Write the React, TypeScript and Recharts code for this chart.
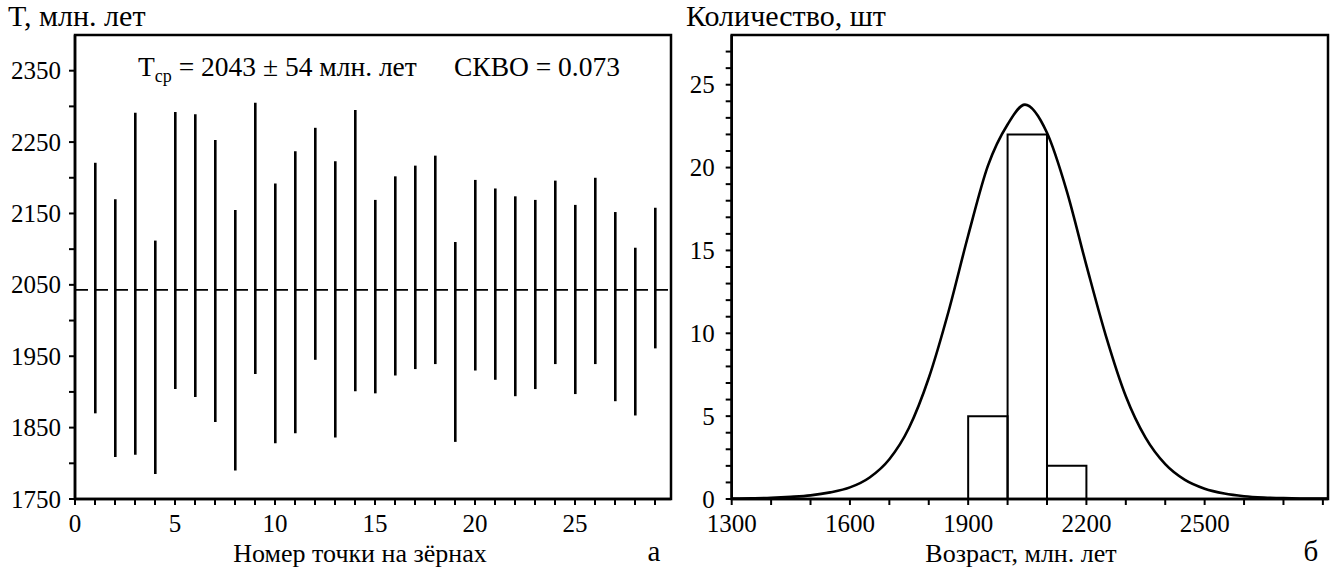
import React from 'react';
import { ComposedChart, Bar, Line, XAxis, YAxis, ReferenceLine, ReferenceArea } from 'recharts';

const FONT = "'Liberation Serif', 'Times New Roman', serif";

// ---------- Left panel (а): age of each analysed point ----------
const pointNumbers = [1, 2, 3, 4, 5, 6, 7, 8, 9, 10, 11, 12, 13, 14, 15, 16, 17, 18, 19, 20, 21, 22, 23, 24, 25, 26, 27, 28, 29];
const ageLow = [1870, 1809, 1812, 1785, 1904, 1893, 1858, 1790, 1925, 1828, 1842, 1945, 1836, 1901, 1898, 1923, 1932, 1939, 1830, 1930, 1917, 1894, 1904, 1939, 1897, 1939, 1887, 1867, 1961];
const ageHigh = [2221, 2170, 2291, 2112, 2292, 2289, 2253, 2155, 2305, 2192, 2237, 2270, 2223, 2295, 2169, 2202, 2217, 2231, 2110, 2197, 2185, 2174, 2169, 2196, 2162, 2200, 2152, 2102, 2158];
const meanAge = 2043;
const leftXDomain = [0, 29.8];
const leftYDomain = [1750, 2400];
const leftXTicks = [0, 1, 2, 3, 4, 5, 6, 7, 8, 9, 10, 11, 12, 13, 14, 15, 16, 17, 18, 19, 20, 21, 22, 23, 24, 25, 26, 27, 28, 29];
const leftXLabels = [0, 5, 10, 15, 20, 25];
const leftYTicks = [1750, 1800, 1850, 1900, 1950, 2000, 2050, 2100, 2150, 2200, 2250, 2300, 2350];
const leftYLabels = [1750, 1850, 1950, 2050, 2150, 2250, 2350];

// ---------- Right panel (б): histogram + density curve ----------
const curveAges = [1300, 1350, 1400, 1450, 1500, 1550, 1600, 1650, 1700, 1750, 1800, 1850, 1900, 1950, 2000, 2044, 2100, 2150, 2200, 2250, 2300, 2350, 2400, 2450, 2500, 2550, 2600, 2650, 2700, 2750, 2813];
const curveCounts = [0.02, 0.04, 0.07, 0.13, 0.22, 0.4, 0.7, 1.3, 2.4, 4.3, 7.3, 11.3, 15.9, 20.1, 22.6, 23.8, 22.1, 18.6, 14.1, 9.8, 6.2, 3.7, 2.1, 1.15, 0.62, 0.33, 0.17, 0.09, 0.05, 0.03, 0.02];
const binStarts = [1900, 2000, 2100];
const binEnds = [2000, 2100, 2200];
const binCounts = [5, 22, 2];
const rightXDomain = [1300, 2813];
const rightYDomain = [0, 28];
const rightXTicks = [1300, 1400, 1500, 1600, 1700, 1800, 1900, 2000, 2100, 2200, 2300, 2400, 2500, 2600, 2700, 2800];
const rightXLabels = [1300, 1600, 1900, 2200, 2500];
const rightYTicks = [0, 1, 2, 3, 4, 5, 6, 7, 8, 9, 10, 11, 12, 13, 14, 15, 16, 17, 18, 19, 20, 21, 22, 23, 24, 25, 26, 27];
const rightYLabels = [0, 5, 10, 15, 20, 25];

const leftData = pointNumbers.map((n, i) => ({ n, range: [ageLow[i], ageHigh[i]] }));
const curveData = curveAges.map((age, i) => ({ age, count: curveCounts[i] }));

const TICK_FS = 25;
const txt = (size: number) => ({ fontFamily: FONT, fontSize: size });

const makeYTick = (labels: number[]) => (props: any) => {
  const { x, y, payload } = props;
  if (!labels.includes(payload.value)) return <g />;
  return (
    <text x={x} y={y} dy="0.34em" textAnchor="end" fill="#000" fontFamily="Liberation Serif" fontSize={TICK_FS} style={txt(TICK_FS)}>
      {payload.value}
    </text>
  );
};

const makeXTick = (labels: number[]) => (props: any) => {
  const { x, y, payload } = props;
  if (!labels.includes(payload.value)) return <g />;
  return (
    <text x={x} y={y} dy="0.68em" textAnchor="middle" fill="#000" fontFamily="Liberation Serif" fontSize={TICK_FS} style={txt(TICK_FS)}>
      {payload.value}
    </text>
  );
};

const axisLine = { stroke: '#000', strokeWidth: 2.5 };
const tickLine = { stroke: '#000', strokeWidth: 2 };

const Label = ({ x, y, size, anchor, children }: any) => (
  <text x={x} y={y} textAnchor={anchor || 'start'} fill="#000" fontFamily="Liberation Serif" fontSize={size} style={txt(size)}>
    {children}
  </text>
);

export default function App() {
  return (
    <div style={{ position: 'absolute', left: 0, top: 0, width: 1336, height: 569, background: '#fff' }}>
      <div style={{ position: 'absolute', left: 0, top: 0 }}>
        <ComposedChart width={680} height={569} data={leftData} margin={{ top: 35, right: 9, bottom: 40, left: 15 }}>
          <XAxis
            dataKey="n"
            type="number"
            domain={leftXDomain}
            ticks={leftXTicks}
            interval={0}
            allowDataOverflow
            height={30}
            tickSize={6}
            tickMargin={10}
            axisLine={axisLine}
            tickLine={tickLine}
            tick={makeXTick(leftXLabels)}
          />
          <YAxis
            type="number"
            domain={leftYDomain}
            ticks={leftYTicks}
            interval={0}
            allowDataOverflow
            width={60}
            tickSize={6}
            tickMargin={8}
            axisLine={axisLine}
            tickLine={tickLine}
            tick={makeYTick(leftYLabels)}
          />
          <ReferenceArea x1={leftXDomain[0]} x2={leftXDomain[1]} y1={leftYDomain[0]} y2={leftYDomain[1]} fill="none" fillOpacity={0} stroke="#000" strokeWidth={2.5} />
          <ReferenceLine y={meanAge} stroke="#000" strokeWidth={1.6} strokeDasharray="13 7" />
          <Bar dataKey="range" barSize={2.6} fill="#000" isAnimationActive={false} />
        </ComposedChart>
      </div>
      <div style={{ position: 'absolute', left: 680, top: 0 }}>
        <ComposedChart width={656} height={569} data={curveData} margin={{ top: 35, right: 8, bottom: 40, left: 11.7 }}>
          <XAxis
            dataKey="age"
            type="number"
            domain={rightXDomain}
            ticks={rightXTicks}
            interval={0}
            allowDataOverflow
            height={30}
            tickSize={6}
            tickMargin={10}
            axisLine={axisLine}
            tickLine={tickLine}
            tick={makeXTick(rightXLabels)}
          />
          <YAxis
            type="number"
            domain={rightYDomain}
            ticks={rightYTicks}
            interval={0}
            allowDataOverflow
            width={40}
            tickSize={6}
            tickMargin={11}
            axisLine={axisLine}
            tickLine={tickLine}
            tick={makeYTick(rightYLabels)}
          />
          <ReferenceArea x1={rightXDomain[0]} x2={rightXDomain[1]} y1={rightYDomain[0]} y2={rightYDomain[1]} fill="none" fillOpacity={0} stroke="#000" strokeWidth={2.5} />
          {binStarts.map((s, i) => (
            <ReferenceArea key={s} x1={s} x2={binEnds[i]} y1={0} y2={binCounts[i]} fill="none" fillOpacity={0} stroke="#000" strokeWidth={2} />
          ))}
          <Line type="monotone" dataKey="count" stroke="#000" strokeWidth={2.6} dot={false} isAnimationActive={false} />
        </ComposedChart>
      </div>
      <svg width={1336} height={569} style={{ position: 'absolute', left: 0, top: 0, pointerEvents: 'none' }}>
        <Label x={8} y={26} size={30}>T, млн. лет</Label>
        <Label x={138} y={76} size={27.5}>
          T<tspan dy={6} fontSize={18} style={{ fontSize: 18 }}>ср</tspan><tspan dy={-6}> = 2043 ± 54 млн. лет</tspan>
        </Label>
        <Label x={620} y={76} size={27.5} anchor="end">СКВО = 0.073</Label>
        <Label x={360} y={562} size={26} anchor="middle">Номер точки на зёрнах</Label>
        <Label x={654} y={561} size={29} anchor="middle">а</Label>
        <Label x={686} y={26} size={30}>Количество, шт</Label>
        <Label x={1021} y={562} size={26} anchor="middle">Возраст, млн. лет</Label>
        <Label x={1311} y={561} size={29} anchor="middle">б</Label>
      </svg>
    </div>
  );
}
